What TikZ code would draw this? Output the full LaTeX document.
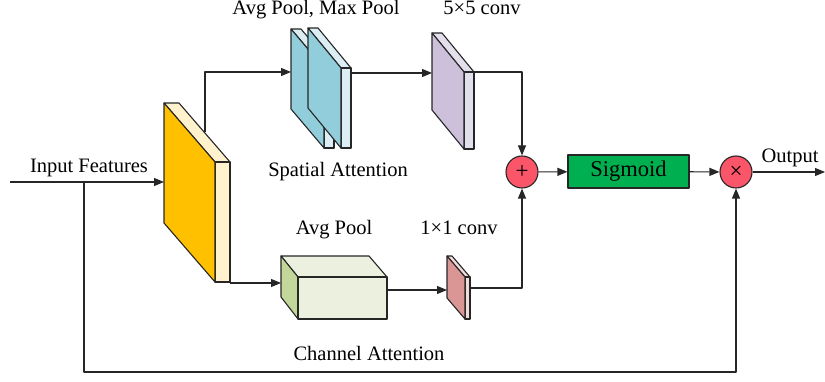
\documentclass[tikz,border=0pt]{standalone}
\usepackage{fontspec}
\setmainfont{Liberation Serif}
\usetikzlibrary{arrows.meta}

\definecolor{edge}{RGB}{38,38,38}
\definecolor{yfront}{HTML}{FFC000}
\definecolor{yside}{HTML}{FFF2CC}
\definecolor{bfront}{HTML}{92CDDC}
\definecolor{bside}{HTML}{DAEEF3}
\definecolor{pfront}{HTML}{CCC0DA}
\definecolor{pside}{HTML}{E4DFEC}
\definecolor{gfront}{HTML}{EBF1DE}
\definecolor{gside}{HTML}{C4D79B}
\definecolor{rfront}{HTML}{DA9694}
\definecolor{rside}{HTML}{F2DCDB}
\definecolor{sigfill}{HTML}{00B050}
\definecolor{opfill}{RGB}{250,85,105}

% Thin slab seen in perspective:
% #1 x0, #2 y0, #3 front width, #4 height, #5 skew, #6 depth, #7 front colour, #8 side colour
\newcommand\drawslab[8]{%
  \filldraw[fill=#8] (#1,#2) -- ++(#6,0) -- ++(#3,#5) -- ++(-#6,0) -- cycle;
  \filldraw[fill=#8] (#1+#3,#2+#5) -- ++(#6,0) -- ++(0,#4) -- ++(-#6,0) -- cycle;
  \filldraw[fill=#7] (#1,#2) -- ++(#3,#5) -- ++(0,#4) -- ++(-#3,-#5) -- cycle;
}

\tikzset{
  lbl/.style={font=\rmfamily\fontsize{20.5}{24}\selectfont, inner sep=0pt, anchor=base},
  conn/.style={draw=edge, line width=1.1pt},
  arr/.style={conn, -{Triangle[length=10pt,width=8pt]}},
  opnode/.style={circle, draw=edge, line width=1.1pt, fill=opfill, minimum size=32pt,
                 inner sep=0pt, font=\rmfamily\fontsize{23}{23}\selectfont},
}

\begin{document}
\begin{tikzpicture}[x=1pt, y=-1pt, line width=1.1pt, draw=edge, line join=round]
\useasboundingbox (0,0) rectangle (825,382);

% operator nodes
\node[opnode] (plus) at (522,172) {+};
\node[opnode] (times) at (736,172) {×};
\node[draw=edge, line width=1.1pt, fill=sigfill, minimum width=121pt, minimum height=33pt,
      inner sep=0pt, font=\rmfamily\fontsize{22.5}{24}\selectfont] (sig) at (628.5,171.5) {Sigmoid};

% connector end points
\coordinate (in) at (10,182);
\coordinate (yin) at (164,182);
\coordinate (split) at (84,182);
\coordinate (skipc) at (84,372);
\coordinate (ytop) at (205,132);
\coordinate (bin) at (291,72);
\coordinate (bout) at (351,73);
\coordinate (pin) at (432,73);
\coordinate (pout) at (474,72);
\coordinate (ybot) at (230,283);
\coordinate (gin) at (281,283);
\coordinate (gout) at (387,290);
\coordinate (rin) at (447,290);
\coordinate (rout) at (470,288);
\coordinate (out) at (825,172);

% connectors
\draw[arr] (in) -- (yin);
\draw[arr] (split) -- (skipc) -| (times.south);
\draw[arr] (ytop) |- (bin);
\draw[arr] (bout) -- (pin);
\draw[arr] (pout) -| (plus.north);
\draw[arr] (ybot) -- (gin);
\draw[arr] (gout) -- (rin);
\draw[arr] (rout) -| (plus.south);
\draw[arr] (plus) -- (sig);
\draw[arr] (sig) -- (times);
\draw[arr] (times) -- (out);

% input feature map
\drawslab{164}{103}{51}{120}{59}{15}{yfront}{yside}

% spatial branch: pooled maps and convolution
\drawslab{291}{29}{33}{80}{39}{10}{bfront}{bside}
\drawslab{308}{28}{33}{80}{40}{10}{bfront}{bside}
\drawslab{432}{33}{32}{77}{39}{10}{pfront}{pside}

% channel branch: pooled block
\filldraw[fill=gfront] (281,256) -- (369,256) -- (387,277) -- (298,277) -- cycle;
\filldraw[fill=gside] (281,256) -- (298,277) -- (298,319) -- (281,297) -- cycle;
\filldraw[fill=gfront] (298,277) rectangle (387,319);

% channel branch: 1x1 convolution
\drawslab{447}{256}{18}{42}{21}{5}{rfront}{rside}

% labels
\node[lbl] (tin) at (89,173) {Input Features};
\node[lbl] (tpool) at (316,15) {Avg Pool, Max Pool};
\node[lbl] (tconv5) at (482,15) {5×5 conv};
\node[lbl] (tspat) at (338,177) {Spatial Attention};
\node[lbl] (tavg) at (334,235) {Avg Pool};
\node[lbl] (tconv1) at (459,235) {1×1 conv};
\node[lbl] (tchan) at (369,360) {Channel Attention};
\node[lbl] (tout) at (790,163) {Output};
\end{tikzpicture}
\end{document}
